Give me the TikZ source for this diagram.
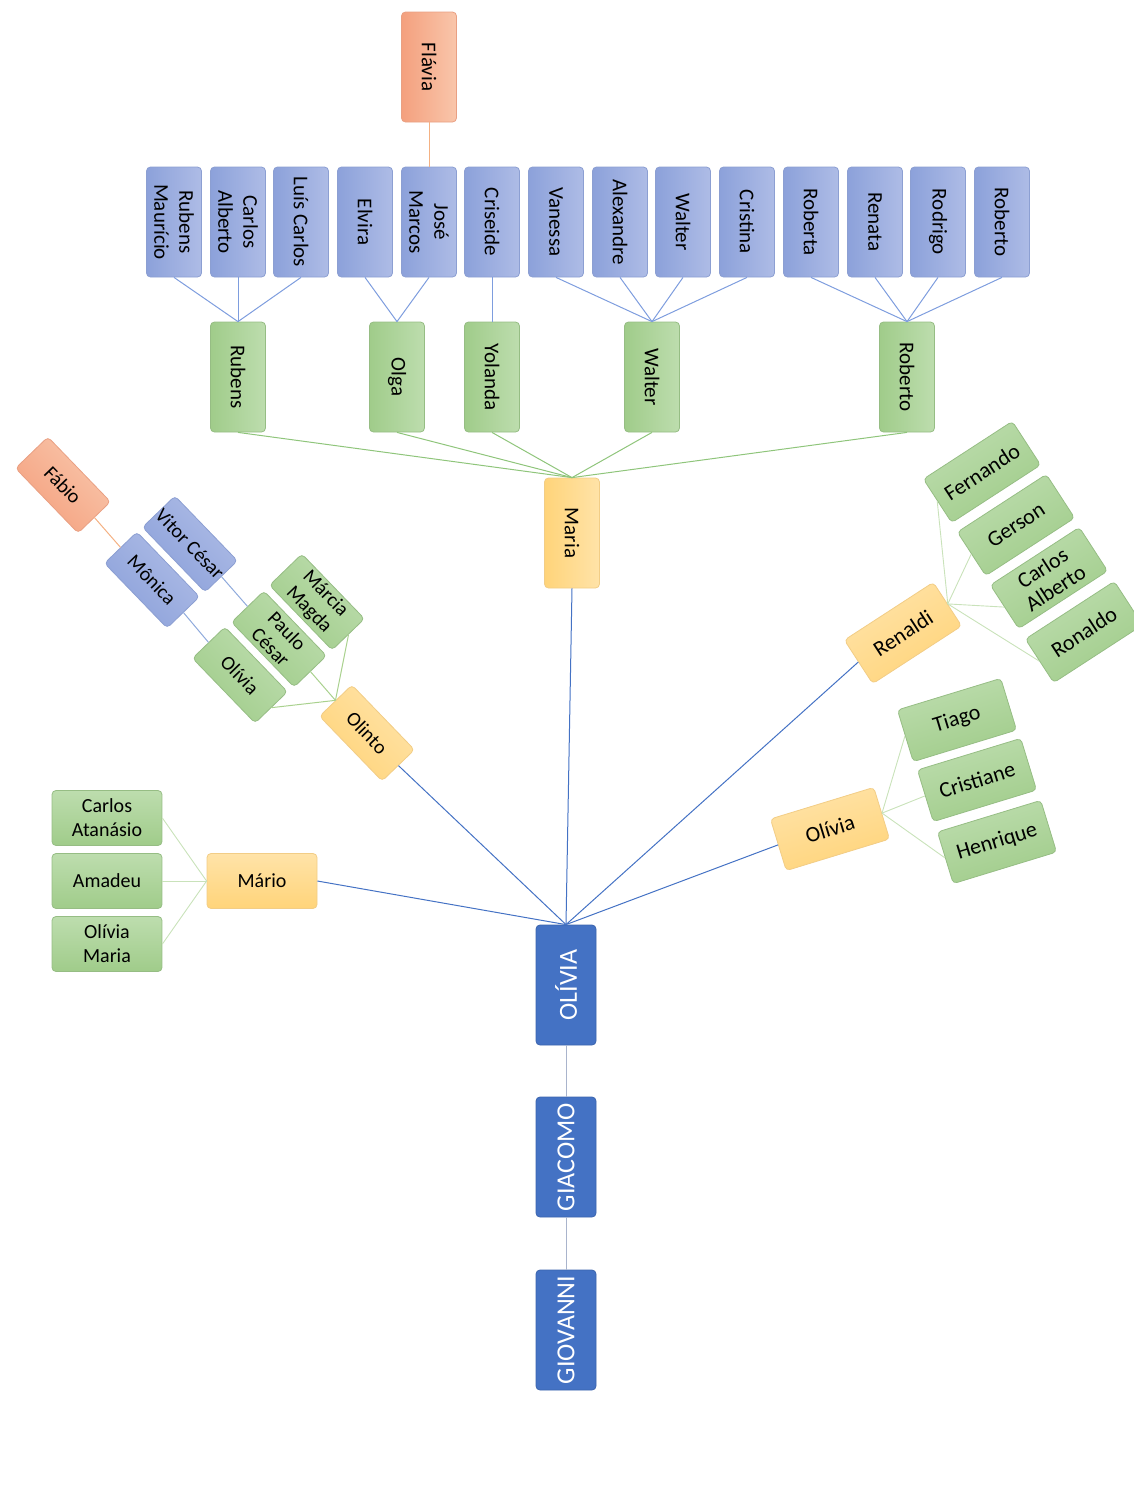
\documentclass[tikz,border=0pt]{standalone}
\usepackage{fontspec}
\setmainfont{Carlito}
\definecolor{bluedk}{HTML}{8CA1DA}
\definecolor{bluelt}{HTML}{AEBCE6}
\definecolor{bluebd}{HTML}{8C9FD2}
\definecolor{greendk}{HTML}{A0CC8A}
\definecolor{greenlt}{HTML}{BDDDAE}
\definecolor{greenbd}{HTML}{96BD84}
\definecolor{orangedk}{HTML}{F4A07E}
\definecolor{orangelt}{HTML}{F9C6AB}
\definecolor{orangebd}{HTML}{E9A083}
\definecolor{yellowdk}{HTML}{FFD47A}
\definecolor{yellowlt}{HTML}{FFE3A8}
\definecolor{yellowbd}{HTML}{F2CD86}
\definecolor{navy}{HTML}{4472C4}
\definecolor{navybd}{HTML}{3B64AE}
\definecolor{toplink}{HTML}{7E9DDE}
\definecolor{greenlink}{HTML}{8FC57B}
\definecolor{palegreen}{HTML}{C9E2BA}
\definecolor{midgreen}{HTML}{A9D18E}
\definecolor{orangelink}{HTML}{F4B183}
\definecolor{bluelink}{HTML}{8FAADC}
\definecolor{graylink}{HTML}{A9B4CC}
\tikzset{
  box/.style={rounded corners=2pt, inner sep=0pt, align=center, line width=0.4pt, text=black},
  bluebox/.style={box, draw=bluebd, top color=bluelt, bottom color=bluedk},
  greenbox/.style={box, draw=greenbd, top color=greenlt, bottom color=greendk},
  orangebox/.style={box, draw=orangebd, top color=orangelt, bottom color=orangedk},
  yellowbox/.style={box, draw=yellowbd, top color=yellowlt, bottom color=yellowdk},
  navybox/.style={box, draw=navybd, fill=navy, text=white, minimum width=60pt, minimum height=30pt, rotate=90, font=\fontsize{13}{15}\selectfont},
  vert/.style={minimum width=55pt, minimum height=27.5pt, rotate=-90, shading angle=-90, font=\fontsize{10.5}{12.5}\selectfont},
  flat/.style={minimum width=55pt, minimum height=27.5pt, font=\fontsize{10}{12}\selectfont},
  diag/.style={minimum width=45pt, minimum height=22.5pt, rotate=-46, shading angle=-46, font=\fontsize{10}{11.5}\selectfont},
  tiltA/.style={minimum width=53pt, minimum height=26pt, rotate=33, shading angle=33, font=\fontsize{11}{12}\selectfont},
  tiltB/.style={minimum width=54pt, minimum height=27pt, rotate=17, shading angle=17, font=\fontsize{11}{12}\selectfont},
  mainlink/.style={draw=navy, line width=0.5pt},
  toplinkst/.style={draw=toplink, line width=0.5pt},
  greenlinkst/.style={draw=greenlink, line width=0.5pt},
  palelink/.style={draw=palegreen, line width=0.45pt},
  midlink/.style={draw=midgreen, line width=0.5pt},
  orangelinkst/.style={draw=orangelink, line width=0.5pt},
  bluelinkst/.style={draw=bluelink, line width=0.5pt},
  graylinkst/.style={draw=graylink, line width=0.5pt}
}
\begin{document}
\begin{tikzpicture}[x=0.5pt, y=-0.5pt]
\useasboundingbox (0,0) rectangle (1134,1512);
% top row (blue)
\node[bluebox, vert] (b1) at (174,222) {Rubens\\Maurício};
\node[bluebox, vert] (b2) at (238,222) {Carlos\\Alberto};
\node[bluebox, vert] (b3) at (301,222) {Luís Carlos};
\node[bluebox, vert] (b4) at (365,222) {Elvira};
\node[bluebox, vert] (b5) at (429,222) {José\\Marcos};
\node[bluebox, vert] (b6) at (492,222) {Criseide};
\node[bluebox, vert] (b7) at (556,222) {Vanessa};
\node[bluebox, vert] (b8) at (620,222) {Alexandre};
\node[bluebox, vert] (b9) at (683,222) {Walter};
\node[bluebox, vert] (b10) at (747,222) {Cristina};
\node[bluebox, vert] (b11) at (811,222) {Roberta};
\node[bluebox, vert] (b12) at (875,222) {Renata};
\node[bluebox, vert] (b13) at (938,222) {Rodrigo};
\node[bluebox, vert] (b14) at (1002,222) {Roberto};
\node[orangebox, vert] (flavia) at (429,67) {Flávia};
% green row
\node[greenbox, vert] (g1) at (238,377) {Rubens};
\node[greenbox, vert] (g2) at (397,377) {Olga};
\node[greenbox, vert] (g3) at (492,377) {Yolanda};
\node[greenbox, vert] (g4) at (652,377) {Walter};
\node[greenbox, vert] (g5) at (907,377) {Roberto};
\node[yellowbox, vert] (maria) at (572,533) {Maria};
% bottom column
\node[navybox] (olivia) at (566,985) {OLÍVIA};
\node[navybox] (giacomo) at (566,1157) {GIACOMO};
\node[navybox] (giovanni) at (566,1330) {GIOVANNI};
% Mario cluster
\node[yellowbox, flat] (mario) at (262,881) {Mário};
\node[greenbox, flat] (ca) at (107,818) {Carlos\\Atanásio};
\node[greenbox, flat] (amadeu) at (107,881) {Amadeu};
\node[greenbox, flat] (om) at (107,944) {Olívia\\Maria};
% left diagonal cluster
\node[orangebox, diag] (fabio) at (63,485) {Fábio};
\node[bluebox, diag] (vitor) at (190,544) {Vitor César};
\node[bluebox, diag] (monica) at (152,580) {Mônica};
\node[greenbox, diag] (marcia) at (317,602) {Márcia\\Magda};
\node[greenbox, diag] (paulo) at (279,639) {Paulo\\César};
\node[greenbox, diag] (olivial) at (240,675) {Olívia};
\node[yellowbox, diag] (olinto) at (367,733) {Olinto};
% Renaldi cluster
\node[yellowbox, tiltA] (renaldi) at (903,633) {Renaldi};
\node[greenbox, tiltA] (fernando) at (982,472) {Fernando};
\node[greenbox, tiltA] (gerson) at (1016,525) {Gerson};
\node[greenbox, tiltA] (calb) at (1049,578) {Carlos\\Alberto};
\node[greenbox, tiltA] (ronaldo) at (1084,632) {Ronaldo};
% Olivia right cluster
\node[yellowbox, tiltB] (oliviar) at (830,829) {Olívia};
\node[greenbox, tiltB] (tiago) at (957,720) {Tiago};
\node[greenbox, tiltB] (cristiane) at (977,780) {Cristiane};
\node[greenbox, tiltB] (henrique) at (997,842) {Henrique};
% links top
\draw[orangelinkst] (flavia.east) -- (b5.west);
\foreach \c in {b1,b2,b3} \draw[toplinkst] (\c.east) -- (g1.west);
\foreach \c in {b4,b5} \draw[toplinkst] (\c.east) -- (g2.west);
\draw[toplinkst] (b6.east) -- (g3.west);
\foreach \c in {b7,b8,b9,b10} \draw[toplinkst] (\c.east) -- (g4.west);
\foreach \c in {b11,b12,b13,b14} \draw[toplinkst] (\c.east) -- (g5.west);
\foreach \c in {g1,g2,g3,g4,g5} \draw[greenlinkst] (\c.east) -- (maria.west);
% main links
\draw[mainlink] (maria.east) -- (olivia.east);
\draw[mainlink] (mario.east) -- (olivia.east);
\draw[mainlink] (olinto.east) -- (olivia.east);
\draw[mainlink] (renaldi.west) -- (olivia.east);
\draw[mainlink] (oliviar.west) -- (olivia.east);
\draw[graylinkst] (olivia.west) -- (giacomo.east);
\draw[graylinkst] (giacomo.west) -- (giovanni.east);
% Mario children
\foreach \c in {ca,amadeu,om} \draw[palelink] (\c.east) -- (mario.west);
% left cluster
\draw[orangelinkst] (fabio.east) -- (monica.west);
\draw[bluelinkst] (monica.east) -- (olivial.west);
\draw[bluelinkst] (vitor.east) -- (paulo.west);
\foreach \c in {marcia,paulo,olivial} \draw[midlink] (\c.east) -- (olinto.west);
% right clusters
\foreach \c in {fernando,gerson,calb,ronaldo} \draw[palelink] (renaldi.east) -- (\c.west);
\foreach \c in {tiago,cristiane,henrique} \draw[palelink] (oliviar.east) -- (\c.west);
\end{tikzpicture}
\end{document}
